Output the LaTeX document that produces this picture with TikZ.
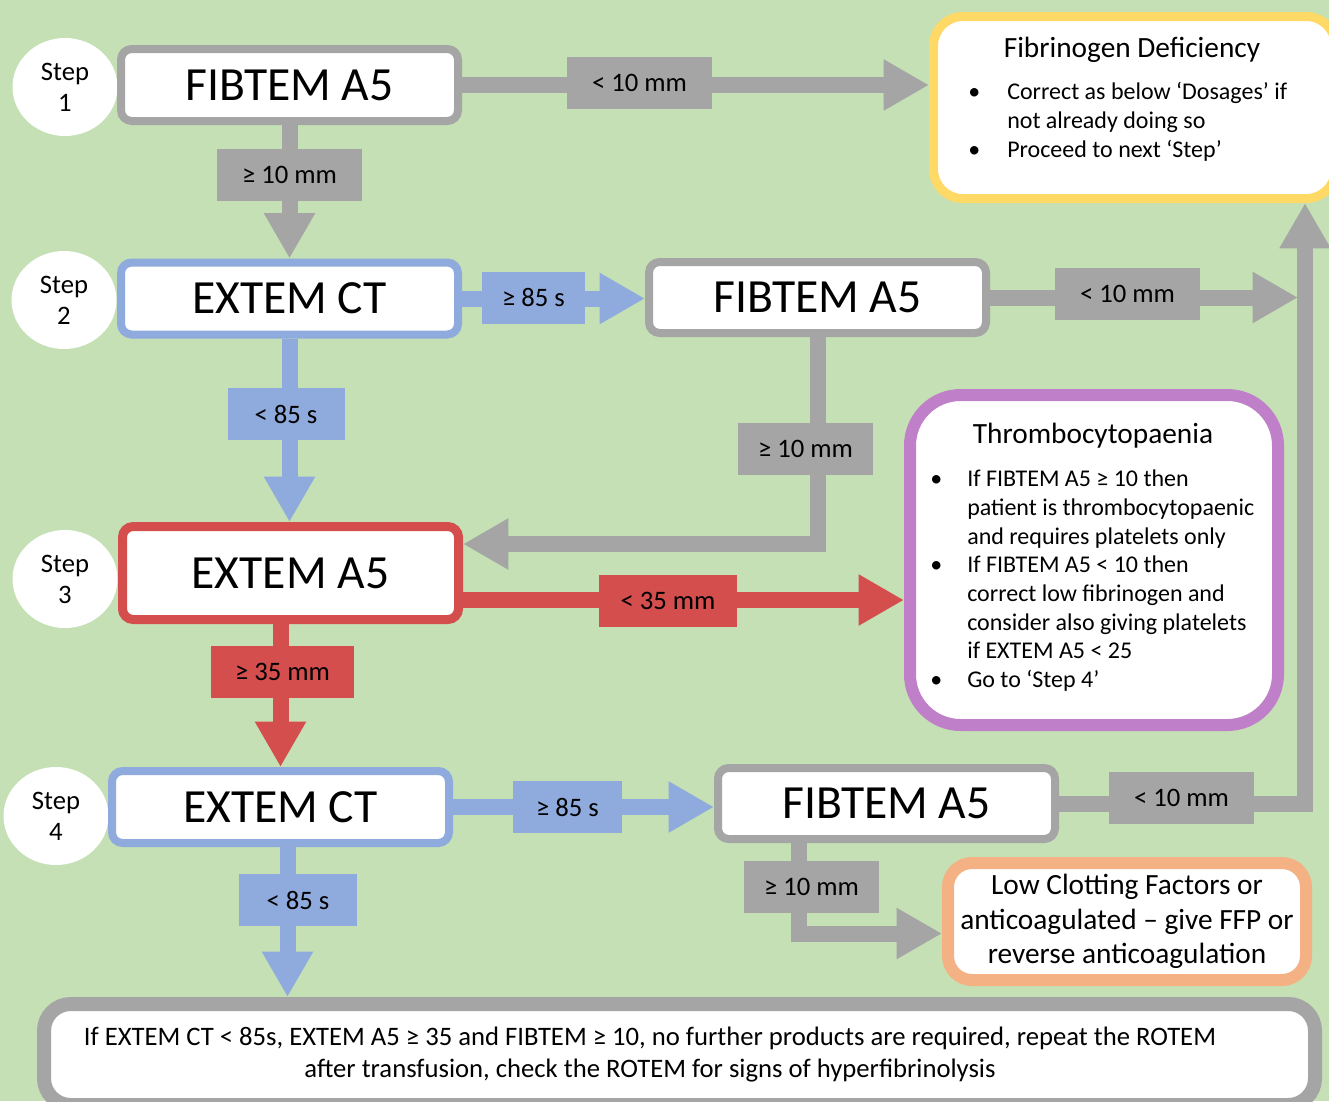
\documentclass[tikz,border=0pt]{standalone}
\usepackage{fontspec}
\setmainfont{Carlito}
\usetikzlibrary{arrows.meta,shapes.geometric,calc}
\definecolor{bggreen}{HTML}{C5E0B4}
\definecolor{cgray}{HTML}{A5A5A5}
\definecolor{cblue}{HTML}{8FAADC}
\definecolor{cred}{HTML}{D44E4E}
\definecolor{cyellow}{HTML}{FFD966}
\definecolor{cpurple}{HTML}{BF80C9}
\definecolor{corange}{HTML}{F4B183}
\pgfdeclarelayer{bg}\pgfdeclarelayer{mid}\pgfsetlayers{bg,mid,main}
\newcommand{\bitem}[2]{\hangindent=#1\hangafter=1\noindent\makebox[#1][l]{\textbullet}#2}
\newcommand{\tightsp}{\spaceskip=0.226em\relax}
\begin{document}
\begin{tikzpicture}[x=0.75pt,y=-0.75pt,
  testbox/.style={draw=#1, line width=6pt, fill=white, rounded corners=8pt,
    minimum width=252.75pt, minimum height=54pt, inner sep=0pt,
    font=\fontsize{35.7}{42}\selectfont},
  stepc/.style={ellipse, fill=white, minimum width=78.75pt, minimum height=73.5pt,
    inner sep=0pt, align=center, font=\fontsize{20}{23.25}\selectfont},
  lab/.style 2 args={fill=#1, minimum width=#2, minimum height=39pt, inner sep=0pt,
    font=\fontsize{20}{24}\selectfont},
  conn/.style={draw=#1, line width=12pt, -{Triangle[width=36pt,length=34pt]}},
  outbox/.style={draw=#1, fill=white, inner sep=0pt},
  bullist/.style={anchor=base west, inner sep=0pt, align=left,
    font=\fontsize{18}{#1}\selectfont}
]
\useasboundingbox (0,0) rectangle (1329,1101);
\begin{pgfonlayer}{bg}
\fill[bggreen] (0,0) rectangle (1329,1101);
\end{pgfonlayer}
\clip (0,0) rectangle (1329,1101);

% step circles
\node[stepc] (S1) at (65,87) {Step\\1};
\node[stepc] (S2) at (64,300) {Step\\2};
\node[stepc] (S3) at (65,579) {Step\\3};
\node[stepc] (S4) at (56,816) {Step\\4};

% test boxes
\node[testbox=cgray] (B1) at (289.5,85) {FIBTEM A5};
\node[testbox=cblue] (B2) at (289.5,298.5) {EXTEM CT};
\node[testbox=cgray, minimum height=53.25pt] (B2R) at (817.5,297.5) {FIBTEM A5};
\node[testbox=cred, line width=6.75pt, minimum width=252pt, minimum height=69.75pt] (B3) at (290.5,573) {EXTEM A5};
\node[testbox=cblue] (B4) at (280.5,807) {EXTEM CT};
\node[testbox=cgray, minimum height=53.25pt] (B4R) at (886.5,803.5) {FIBTEM A5};

% outcome boxes
\node[outbox=cyellow, line width=6.75pt, rounded corners=22pt, minimum width=301.5pt, minimum height=136.5pt] (fib) at (1134.5,107.5) {};
\node[anchor=base, font=\fontsize{22}{26}\selectfont] (fibT) at (1132,57) {Fibrinogen Deficiency};
\node[bullist=21.75pt, text width=262pt] (fibL) at (968,99.5)
  {\tightsp\bitem{29.25pt}{Correct as below ‘Dosages’ if\newline not already doing so}\par\bitem{29.25pt}{Proceed to next ‘Step’}};

\node[outbox=cpurple, line width=9pt, rounded corners=38pt, minimum width=276pt, minimum height=247.5pt] (thr) at (1094,560) {};
\node[anchor=base, font=\fontsize{22}{26}\selectfont] (thrT) at (1093,443) {Thrombocytopaenia};
\node[bullist=21.5pt, text width=252pt] (thrL) at (930,486.7)
  {\tightsp\bitem{27.75pt}{If FIBTEM A5 ≥ 10 then\newline patient is thrombocytopaenic\newline and requires platelets only}\par
   \bitem{27.75pt}{If FIBTEM A5 < 10 then\newline correct low fibrinogen and\newline consider also giving platelets\newline if EXTEM A5 < 25}\par
   \bitem{27.75pt}{Go to ‘Step 4’}};

\node[outbox=corange, line width=9pt, rounded corners=18pt, minimum width=268.5pt, minimum height=87.75pt,
  align=center, font=\fontsize{22}{25.9}\selectfont] (low) at (1127,921.5)
  {Low Clotting Factors or\\anticoagulated – give FFP or\\reverse anticoagulation};

\node[outbox=cgray, line width=10.5pt, rounded corners=20pt, minimum width=953.25pt, minimum height=75.75pt] (bot) at (679.5,1054.5) {};
\node[align=center, inner sep=0pt, font=\fontsize{20}{24}\selectfont] (botT) at (650,1055)
  {If EXTEM CT < 85s, EXTEM A5 ≥ 35 and FIBTEM ≥ 10, no further products are required, repeat the ROTEM\\after transfusion, check the ROTEM for signs of hyperfibrinolysis};

% labels
\node[lab={cgray}{108.75pt}] (l1) at (639.5,83) {< 10 mm};
\node[lab={cgray}{108.75pt}] (l2) at (289.5,175) {≥ 10 mm};
\node[lab={cblue}{77.25pt}] (l3) at (533.5,297.5) {≥ 85 s};
\node[lab={cgray}{108.75pt}] (l4) at (1127.5,294) {< 10 mm};
\node[lab={cblue}{87.75pt}] (l5) at (286,414) {< 85 s};
\node[lab={cgray}{101.25pt}] (l6) at (805.5,449) {≥ 10 mm};
\node[lab={cred}{103.5pt}] (l7) at (668,601) {< 35 mm};
\node[lab={cred}{107.25pt}] (l8) at (282.5,672) {≥ 35 mm};
\node[lab={cblue}{81.75pt}] (l9) at (567.5,807) {≥ 85 s};
\node[lab={cblue}{88.5pt}] (l10) at (298,900) {< 85 s};
\node[lab={cgray}{101.25pt}] (l11) at (811.5,887) {≥ 10 mm};
\node[lab={cgray}{108.75pt}] (l12) at (1181.5,797.5) {< 10 mm};

% helper coordinates
\coordinate (r2) at (1298,297.5);
\coordinate (rc) at (1305,800);
\coordinate (b3in) at ($(B3.east)+(0,-29)$);
\coordinate (b3out) at ($(B3.east)+(0,27)$);
\coordinate (b4out) at ($(B4.south)+(7,0)$);
\coordinate (b4rout) at ($(B4R.south)+(-88,0)$);
\coordinate (lowin) at ($(low.west)+(0,12)$);

% connectors
\begin{pgfonlayer}{mid}
\draw[conn=cgray] (B1.east) -- (B1.east -| fib.west);
\draw[conn=cgray] (B1.south) -- (B1.south |- B2.north);
\draw[conn=cblue] (B2.east) -- (B2.east -| B2R.west);
\draw[conn=cgray] (B2R.east) -- (r2);
\draw[conn=cgray] (B4R.east) -| (rc |- fib.south);
\draw[conn=cblue] (B2.south) -- (B2.south |- B3.north);
\draw[conn=cgray] (B2R.south) |- (b3in);
\draw[conn=cred] (b3out) -- (b3out -| thr.west);
\draw[conn=cred] (B4.north |- B3.south) -- (B4.north);
\draw[conn=cblue] (B4.east) -- (B4.east -| B4R.west);
\draw[conn=cblue] (b4out) -- (b4out |- bot.north);
\draw[conn=cgray] (b4rout) |- (lowin);
\end{pgfonlayer}
\end{tikzpicture}
\end{document}
